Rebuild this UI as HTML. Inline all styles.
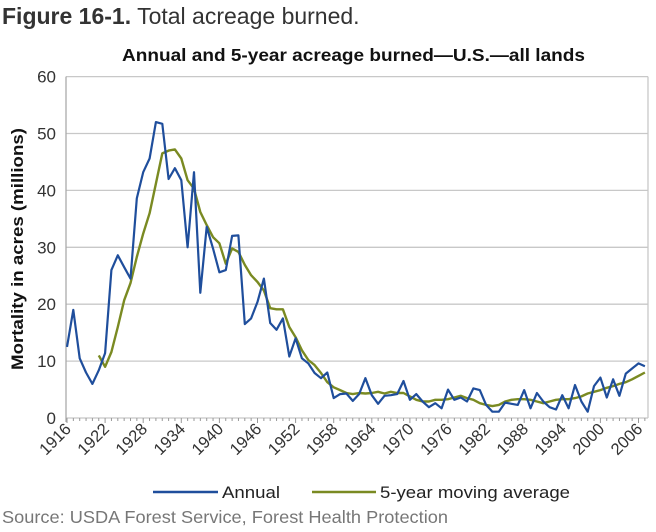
<!DOCTYPE html>
<html><head><meta charset="utf-8"><style>
body{margin:0;background:#fff;width:656px;height:532px;overflow:hidden;font-family:"Liberation Sans",sans-serif}
svg{display:block}
</style></head><body>
<svg width="656" height="532">
<text x="2" y="24" font-size="23" fill="#333"><tspan font-weight="bold">Figure 16-1.</tspan> Total acreage burned.</text>
<text x="122" y="61" font-size="17.5" font-weight="bold" fill="#111" textLength="463" lengthAdjust="spacingAndGlyphs">Annual and 5-year acreage burned—U.S.—all lands</text>
<text transform="translate(23,370) rotate(-90)" font-size="17" font-weight="bold" fill="#111" textLength="242" lengthAdjust="spacingAndGlyphs">Mortality in acres (millions)</text>
<g id="grid"></g><g id="axes"></g><g id="series"></g>
<g>
<line x1="153" y1="492" x2="218" y2="492" stroke="#1f4e9c" stroke-width="2.5"/>
<text x="222" y="498" font-size="17" fill="#222" textLength="58" lengthAdjust="spacingAndGlyphs">Annual</text>
<line x1="312" y1="492" x2="376" y2="492" stroke="#7a8a22" stroke-width="2.5"/>
<text x="380" y="498" font-size="17" fill="#222" textLength="190" lengthAdjust="spacingAndGlyphs">5-year moving average</text>
</g>
<text x="2" y="523" font-size="17.5" fill="#777" textLength="446" lengthAdjust="spacingAndGlyphs">Source: USDA Forest Service, Forest Health Protection</text>
</svg>
<script>
const annualStart = 1916;
const annual = [12.5,19,10.5,8,6,8.4,11.4,26,28.6,26.5,24.5,38.6,43.2,45.6,52,51.7,42,43.9,41.8,30,43.2,22,33.6,29.8,25.6,26,32,32.1,16.5,17.5,20.4,24.5,16.7,15.5,17.5,10.8,14,10.5,9.6,7.9,7,8,
3.5,4.2,4.3,3,4.2,7,4,2.5,3.9,4,4.2,6.5,3.2,4.2,2.9,1.9,2.6,1.7,5,3.2,3.6,2.9,5.2,4.9,2.3,1.1,1.1,2.7,2.5,2.3,4.9,1.7,4.4,2.9,1.9,1.5,4,1.7,5.8,2.9,1.1,5.6,7.1,3.6,6.8,3.9,7.8,8.7,9.6,9.1];
const avgStart = 1921;
const avg = [11,9,11.6,16,20.7,23.7,28.3,32.4,36,41.2,46.5,47,47.2,45.6,41.8,40.3,36.2,33.9,31.8,30.7,27.1,29.8,29.2,26.9,25.1,23.9,22.4,19.3,19.1,19.1,16,14.2,11.9,10.2,9.3,7.9,6.3,5.4,4.9,4.4,
4.2,4.4,4.3,4.4,4.6,4.3,4.6,4.4,4.4,3.8,3.2,2.9,2.9,3.2,3.2,3.3,3.6,3.9,3.5,3.2,2.6,2.3,2.1,2.3,2.9,3.2,3.3,3.3,3.2,2.9,2.6,2.9,3.2,3.3,
3.3,3.5,3.8,4.3,4.6,4.9,5.3,5.6,6.0,6.3,6.8,7.4,8.0];
const yTicks = [0,10,20,30,40,50,60];
const xTickLabels = [1916,1922,1928,1934,1940,1946,1952,1958,1964,1970,1976,1982,1988,1994,2000,2006];
const NS="http://www.w3.org/2000/svg";
const X0=67, PX=6.35, Y0=418, PY=5.69;
function xs(yr){return X0+(yr-1916)*PX;}
function ys(v){return Y0-v*PY;}
function mk(t,a,p){const e=document.createElementNS(NS,t);for(const k in a)e.setAttribute(k,a[k]);p.appendChild(e);return e;}
const grid=document.getElementById('grid'), axes=document.getElementById('axes'), ser=document.getElementById('series');
yTicks.forEach(v=>{
  const l=mk('line',{x1:66,x2:648,y1:ys(v),y2:ys(v),stroke:'#c8c8c8','stroke-width':1.3},grid);
  
  
  const t=mk('text',{x:56,y:ys(v)+6,'font-size':17,'text-anchor':'end',fill:'#333'},axes);
  t.textContent=v;
  
  
});
const rl=mk('line',{x1:648,x2:648,y1:ys(60),y2:Y0,stroke:'#c8c8c8','stroke-width':1.3},grid);


const al=mk('line',{x1:66,x2:66,y1:ys(60),y2:Y0+4,stroke:'#aaa','stroke-width':1.3},axes);


for(let yr=1916;yr<=2007;yr++){
  const maj=(yr-1916)%6===0;
  const tk=mk('line',{x1:xs(yr),x2:xs(yr),y1:Y0,y2:Y0+(maj?5:3),stroke:'#999','stroke-width':1},axes);
  
  
}
xTickLabels.forEach(yr=>{
  const t=mk('text',{transform:`translate(${xs(yr)+5},${Y0+12}) rotate(-45)`,'font-size':16.5,'text-anchor':'end',fill:'#333'},axes);
  t.textContent=yr;
  
  
});
function pts(arr,start){return arr.map((v,i)=>xs(start+i).toFixed(1)+','+ys(v).toFixed(1)).join(' ');}
const pa=mk('polyline',{points:pts(avg,avgStart),fill:'none',stroke:'#7a8a22','stroke-width':2.4,'stroke-linejoin':'round'},ser);


const pn=mk('polyline',{points:pts(annual,annualStart),fill:'none',stroke:'#1f4e9c','stroke-width':2.2,'stroke-linejoin':'round'},ser);


</script>
</body></html>
